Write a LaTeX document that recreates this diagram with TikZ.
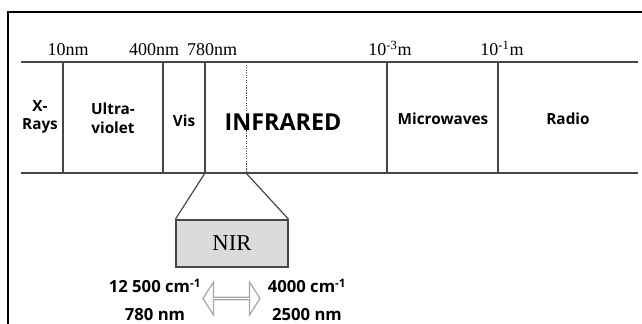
\documentclass[tikz,border=0pt]{standalone}
\usepackage{fontspec}
\setmainfont{Liberation Serif}
\newfontfamily\bandfont{Open Sans}
\usetikzlibrary{arrows.meta,positioning,shapes.arrows}
\definecolor{bandcolor}{gray}{0.28}
\definecolor{nircolor}{gray}{0.86}

\begin{document}
\begin{tikzpicture}[
    x=0.75pt, y=-0.75pt,
    edge/.style={draw=bandcolor, line width=1.4pt},
    divider/.style={draw=bandcolor, line width=0.9pt},
    wavelabel/.style={anchor=base, inner sep=0pt, font=\fontsize{13.5}{15}\selectfont},
    region/.style={align=center, inner sep=0pt, font=\bandfont\bfseries\fontsize{11.5}{14}\selectfont},
    bigregion/.style={inner sep=0pt, font=\bandfont\bfseries\fontsize{17.5}{20}\selectfont},
    nirbox/.style={rectangle, draw=bandcolor, line width=1pt, fill=nircolor,
    minimum width=112*0.75pt, minimum height=47*0.75pt, font=\fontsize{17}{20}\selectfont},
    rangelabel/.style={inner sep=0pt, font=\bandfont\bfseries\fontsize{12.5}{15}\selectfont},
    swap/.style={double arrow, draw=gray!70, line width=0.9pt, fill=white, inner sep=0pt,
    minimum height=57*0.75pt, minimum width=33*0.75pt,
    double arrow head extend=7.5*0.75pt, double arrow tip angle=115}
]
\useasboundingbox (0,0) rectangle (642,324);
% frame of the page
\draw[line width=0.8pt] (8,324) -- (8,12) -- (642,12);

% band edges
\coordinate (tl) at (21,62);
\coordinate (tr) at (638,62);
\coordinate (bl) at (21,173);
\coordinate (br) at (638,173);
\draw[edge] (tl) -- (tr);
\draw[edge] (bl) -- (br);

% boundaries
\coordinate (d1t) at (63,62);  \coordinate (d1b) at (63,173);
\coordinate (d2t) at (163,62); \coordinate (d2b) at (163,173);
\coordinate (d3t) at (205,62); \coordinate (d3b) at (205,173);
\coordinate (d4t) at (246,62); \coordinate (d4b) at (246,173);
\coordinate (d5t) at (387,62); \coordinate (d5b) at (387,173);
\coordinate (d6t) at (498,62); \coordinate (d6b) at (498,173);
\draw[divider] (d1t) -- (d1b);
\draw[divider] (d2t) -- (d2b);
\draw[divider] (d3t) -- (d3b);
\draw[divider, densely dotted, line width=0.7pt] (d4t) -- (d4b);
\draw[divider] (d5t) -- (d5b);
\draw[divider] (d6t) -- (d6b);

% wavelengths
\node[wavelabel] (w1) at (68,56) {10nm};
\node[wavelabel] (w2) at (154,56) {400nm};
\node[wavelabel] (w3) at (212,56) {780nm};
\node[wavelabel] (w4) at (390,56) {10\textsuperscript{-3}m};
\node[wavelabel] (w5) at (502,56) {10\textsuperscript{-1}m};

% regions
\node[region] (xray) at (40,117) {X-\\Rays};
\node[region] (uv) at (113,118) {Ultra-\\violet};
\node[region] (vis) at (184,121) {Vis};
\node[bigregion] (ir) at (283,122) {INFRARED};
\node[region] (micro) at (443,119) {Microwaves};
\node[region] (radio) at (568,119) {Radio};

% near infrared
\node[nirbox] (nir) at (232,243.5) {NIR};
\draw[divider] (d3b) -- (nir.north west);
\draw[divider] (d4b) -- (nir.north east);

\node[rangelabel] (k1) at (155,286) {12 500 cm\textsuperscript{-1}};
\node[rangelabel] (n1) at (155,315) {780 nm};
\node[rangelabel] (k2) at (307,286) {4000 cm\textsuperscript{-1}};
\node[rangelabel] (n2) at (307,315) {2500 nm};
\node[swap] (sw) at (231.5,298.5) {};
\end{tikzpicture}
\end{document}
